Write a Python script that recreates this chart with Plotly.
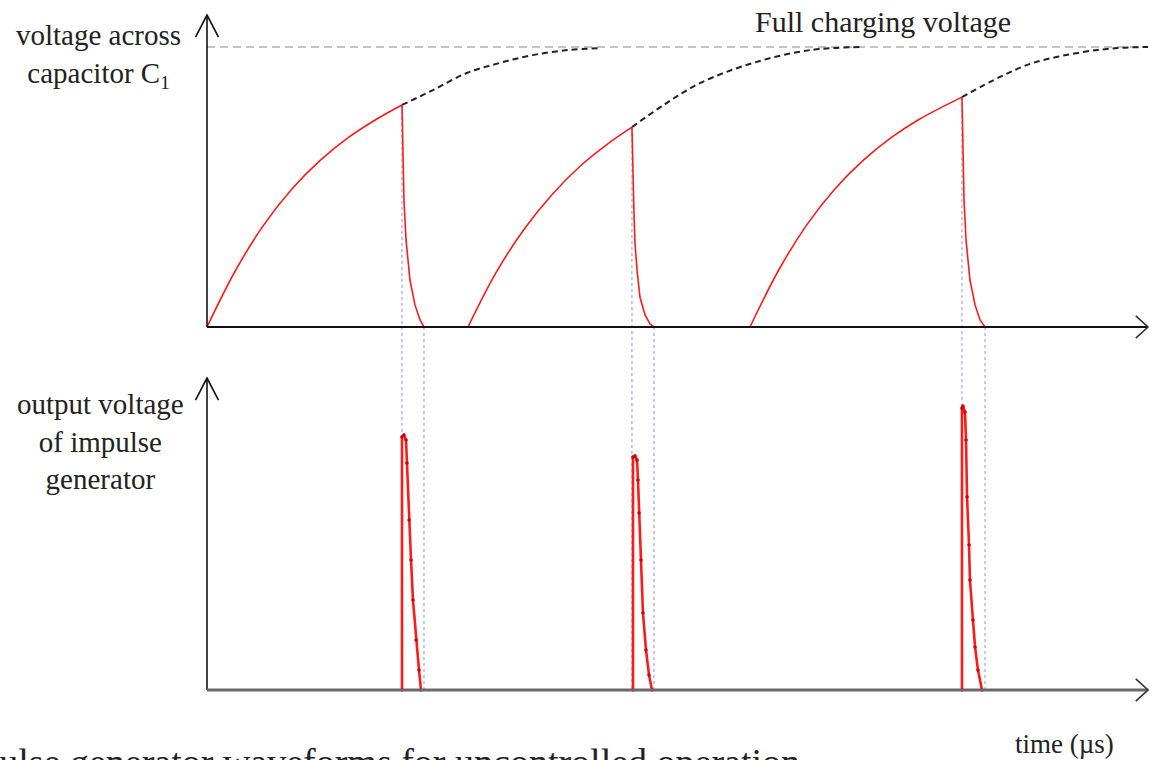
import plotly.graph_objects as go

# ---------------- data (time in arbitrary µs units, voltage as fraction of full charge) -------------
charge1_t = [0, 3, 6, 9, 12, 15, 18, 20.72]
charge1_v = [0, 0.20, 0.363, 0.492, 0.594, 0.676, 0.742, 0.793]
charge2_t = [27.74, 30.7, 33.7, 36.7, 39.7, 42.7, 45.16]
charge2_v = [0, 0.193, 0.349, 0.474, 0.576, 0.657, 0.714]
charge3_t = [57.70, 60.7, 63.7, 66.7, 69.7, 72.7, 75.7, 80.23]
charge3_v = [0, 0.20, 0.363, 0.492, 0.594, 0.676, 0.742, 0.821]

cont1_t = [20.72, 24.0, 27.6, 31.1, 34.6, 38.3, 41.8]
cont1_v = [0.793, 0.846, 0.907, 0.943, 0.971, 0.989, 0.996]
cont2_t = [45.16, 48.67, 52.39, 58.02, 64.08, 69.71]
cont2_v = [0.714, 0.796, 0.871, 0.943, 0.989, 1.0]
cont3_t = [80.23, 84.27, 87.78, 93.09, 96.71, 100]
cont3_v = [0.821, 0.893, 0.943, 0.982, 0.996, 1.0]

decay1_t = [20.72, 20.83, 20.93, 21.15, 21.57, 22.10, 22.64, 23.06]
decay1_v = [0.793, 0.596, 0.454, 0.311, 0.168, 0.079, 0.025, 0]
decay2_t = [45.16, 45.27, 45.38, 45.48, 45.70, 46.01, 46.55, 47.08, 47.50]
decay2_v = [0.714, 0.525, 0.40, 0.30, 0.204, 0.107, 0.043, 0.011, 0]
decay3_t = [80.23, 80.34, 80.45, 80.66, 81.08, 81.62, 82.15, 82.68]
decay3_v = [0.821, 0.596, 0.454, 0.311, 0.168, 0.079, 0.025, 0]

pulse1_t = [20.72, 20.72, 20.93, 21.15, 21.25, 21.47, 21.68, 21.89, 22.21, 22.53, 22.74]
pulse1_v = [0, 0.904, 0.911, 0.893, 0.811, 0.607, 0.464, 0.321, 0.179, 0.071, 0]
pulse2_t = [45.27, 45.27, 45.48, 45.70, 45.80, 45.91, 46.12, 46.33, 46.65, 46.97, 47.29]
pulse2_v = [0, 0.832, 0.836, 0.821, 0.75, 0.632, 0.464, 0.275, 0.143, 0.054, 0]
pulse3_t = [80.23, 80.23, 80.34, 80.55, 80.66, 80.77, 80.98, 81.08, 81.40, 81.62, 81.93, 82.36]
pulse3_v = [0, 1.007, 1.014, 0.993, 0.893, 0.689, 0.518, 0.393, 0.25, 0.154, 0.071, 0]

full_voltage = 1.0
time_end = 100
axis_top = 1.114

top_label = "voltage across<br>capacitor C<sub><span style='font-size:19px'>1</span></sub>"
bottom_label = "output voltage<br>of impulse<br>generator"
full_label = "Full charging voltage"
time_label = "time (µs)"
caption = "Impulse generator waveforms for uncontrolled operation"

# ---------------- layout geometry ----------------
W, H = 1150, 760
ORIGIN_PX = 207
PX_PER_T = 9.41
PX_PER_V = 280
TOP_BASE_PX = 327
BOT_BASE_PX = 690
X_RANGE = [-3, 100.2]
Y_RANGE = [-0.06, 1.12]


def xp(t):
    return (ORIGIN_PX + t * PX_PER_T) / W


def yp(v, base):
    return 1 - (base - v * PX_PER_V) / H


RED = "#ff1a1a"
FONT = "Liberation Serif, Times New Roman, serif"

fig = go.Figure()

for t, v in [(charge1_t, charge1_v), (charge2_t, charge2_v), (charge3_t, charge3_v)]:
    fig.add_trace(go.Scatter(x=t, y=v, mode="lines", line=dict(color=RED, width=1.6, shape="spline"),
                             xaxis="x", yaxis="y", showlegend=False, hoverinfo="skip"))
for t, v in [(cont1_t, cont1_v), (cont2_t, cont2_v), (cont3_t, cont3_v)]:
    fig.add_trace(go.Scatter(x=t, y=v, mode="lines",
                             line=dict(color="#222222", width=2, dash="6px,4px", shape="spline"),
                             xaxis="x", yaxis="y", showlegend=False, hoverinfo="skip"))
for t, v in [(decay1_t, decay1_v), (decay2_t, decay2_v), (decay3_t, decay3_v)]:
    fig.add_trace(go.Scatter(x=t, y=v, mode="lines", line=dict(color=RED, width=1.6),
                             xaxis="x", yaxis="y", showlegend=False, hoverinfo="skip"))
for t, v in [(pulse1_t, pulse1_v), (pulse2_t, pulse2_v), (pulse3_t, pulse3_v)]:
    fig.add_trace(go.Scatter(x=t, y=v, mode="lines+markers", line=dict(color=RED, width=2.6),
                             marker=dict(color="#d00000", size=3.5),
                             xaxis="x", yaxis="y2", showlegend=False, hoverinfo="skip"))

shapes = []
# full charging voltage reference line
shapes.append(dict(type="line", xref="x", yref="y", x0=0, x1=time_end, y0=full_voltage, y1=full_voltage,
                   line=dict(color="#b0b0b0", width=1.5, dash="8px,5px"), layer="below"))

# dotted guide lines
for dt, dv in [(decay1_t, decay1_v), (decay2_t, decay2_v), (decay3_t, decay3_v)]:
    shapes.append(dict(type="line", xref="paper", yref="paper", x0=xp(dt[0]), x1=xp(dt[0]),
                       y0=yp(dv[0], TOP_BASE_PX), y1=yp(0, BOT_BASE_PX),
                       line=dict(color="rgba(110,110,200,0.75)", width=1, dash="dot"), layer="below"))
    shapes.append(dict(type="line", xref="paper", yref="paper", x0=xp(dt[-1]), x1=xp(dt[-1]),
                       y0=yp(0, TOP_BASE_PX), y1=yp(0, BOT_BASE_PX),
                       line=dict(color="rgba(110,110,200,0.75)", width=1, dash="dot"), layer="below"))

# axes with open arrowheads
for yref, xcol, xw in [("y", "#111111", 2), ("y2", "#6a6a6a", 3)]:
    shapes.append(dict(type="line", xref="x", yref=yref, x0=0, x1=0, y0=0, y1=axis_top,
                       line=dict(color="#111111", width=1.6)))
    shapes.append(dict(type="path", xref="x", yref=yref,
                       path=f"M -1.22,{axis_top - 0.079} L 0,{axis_top} L 1.22,{axis_top - 0.079}",
                       line=dict(color="#111111", width=1.6)))
    shapes.append(dict(type="line", xref="x", yref=yref, x0=0, x1=time_end, y0=0, y1=0,
                       line=dict(color=xcol, width=xw)))
    shapes.append(dict(type="path", xref="x", yref=yref,
                       path=f"M {time_end - 1.3},0.04 L {time_end},0 L {time_end - 1.3},-0.04",
                       line=dict(color="#333333", width=1.6)))

annotations = [
    dict(text=top_label, x=98 / W, y=1 - 56 / H, xref="paper", yref="paper",
         showarrow=False, align="center", xanchor="center", yanchor="middle",
         font=dict(family=FONT, size=29, color="#222")),
    dict(text=bottom_label, x=100 / W, y=1 - 441 / H, xref="paper", yref="paper",
         showarrow=False, align="center", xanchor="center", yanchor="middle",
         font=dict(family=FONT, size=29, color="#222")),
    dict(text=full_label, x=883 / W, y=1 - 21 / H, xref="paper", yref="paper",
         showarrow=False, xanchor="center", yanchor="middle",
         font=dict(family=FONT, size=30, color="#222")),
    dict(text=time_label, x=1064 / W, y=1 - 744 / H, xref="paper", yref="paper",
         showarrow=False, xanchor="center", yanchor="middle",
         font=dict(family=FONT, size=27, color="#222")),
    dict(text=caption, x=802 / W, y=1 - 762 / H, xref="paper", yref="paper",
         showarrow=False, xanchor="right", yanchor="middle",
         font=dict(family=FONT, size=38, color="#222")),
]

fig.update_layout(
    width=W, height=H,
    margin=dict(l=0, r=0, t=0, b=0),
    paper_bgcolor="white", plot_bgcolor="rgba(0,0,0,0)",
    xaxis=dict(domain=[xp(X_RANGE[0]), xp(X_RANGE[1])], range=X_RANGE, visible=False, anchor="y"),
    yaxis=dict(domain=[yp(Y_RANGE[0], TOP_BASE_PX), yp(Y_RANGE[1], TOP_BASE_PX)], range=Y_RANGE,
               visible=False, anchor="x"),
    yaxis2=dict(domain=[yp(Y_RANGE[0], BOT_BASE_PX), yp(Y_RANGE[1], BOT_BASE_PX)], range=Y_RANGE,
                visible=False, anchor="x"),
    shapes=shapes,
    annotations=annotations,
    showlegend=False,
)

fig.write_html("out.html", config={"displayModeBar": False},
               post_script="document.body.style.margin='0';document.body.style.overflow='hidden';")
